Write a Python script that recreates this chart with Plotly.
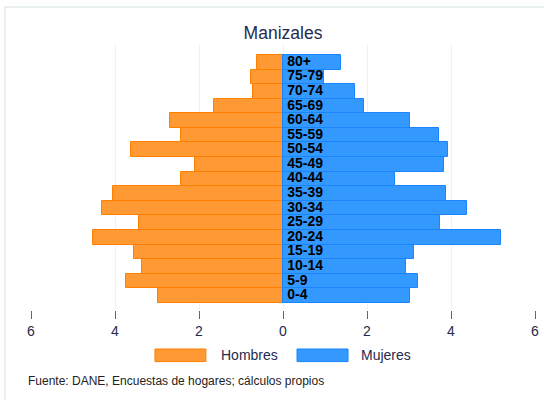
import plotly.graph_objects as go

age_groups = ["0-4", "5-9", "10-14", "15-19", "20-24", "25-29", "30-34", "35-39",
              "40-44", "45-49", "50-54", "55-59", "60-64", "65-69", "70-74", "75-79", "80+"]
hombres = [2.98, 3.75, 3.36, 3.55, 4.53, 3.42, 4.31, 4.04,
           2.44, 2.10, 3.61, 2.44, 2.69, 1.64, 0.71, 0.77, 0.61]
mujeres = [3.02, 3.21, 2.92, 3.11, 5.19, 3.73, 4.38, 3.87,
           2.67, 3.84, 3.92, 3.71, 3.02, 1.92, 1.71, 0.98, 1.38]
tick_vals = [-6, -4, -2, 0, 2, 4, 6]
tick_text = ["6", "4", "2", "0", "2", "4", "6"]

idx = list(range(len(age_groups)))
orange_fill, orange_line = "#FF9933", "#FF8000"
blue_fill, blue_line = "#3399FF", "#1A85FF"
navy = "#1f2b4d"

fig = go.Figure()
fig.add_trace(go.Bar(y=idx, x=[-v for v in hombres], orientation="h", name="Hombres",
                     width=1, marker=dict(color=orange_fill, line=dict(color=orange_line, width=1)),
                     showlegend=False))
fig.add_trace(go.Bar(y=idx, x=mujeres, orientation="h", name="Mujeres",
                     width=1, marker=dict(color=blue_fill, line=dict(color=blue_line, width=1)),
                     showlegend=False))
fig.add_trace(go.Scatter(y=idx, x=[0.1] * len(idx), mode="text",
                         text=["<b>" + a + "</b>" for a in age_groups],
                         textposition="middle right",
                         textfont=dict(family="Liberation Sans, Arial", size=14, color="black"),
                         showlegend=False, hoverinfo="skip"))

shapes = [
    dict(type="rect", xref="paper", yref="paper", x0=-0.0516, x1=1.2, y0=-0.6, y1=1.139,
         line=dict(color="#e4ecec", width=1.5), fillcolor="rgba(0,0,0,0)", layer="below"),
    dict(type="rect", xref="paper", yref="paper", x0=0.246, x1=0.347, y0=-0.194, y1=-0.1466,
         line=dict(color=orange_line, width=1), fillcolor=orange_fill),
    dict(type="rect", xref="paper", yref="paper", x0=0.5278, x1=0.629, y0=-0.194, y1=-0.1466,
         line=dict(color=blue_line, width=1), fillcolor=blue_fill),
]
annotations = [
    dict(xref="paper", yref="paper", x=0.373, y=-0.169, text="Hombres", showarrow=False,
         xanchor="left", yanchor="middle", font=dict(family="Liberation Sans, Arial", size=14, color=navy)),
    dict(xref="paper", yref="paper", x=0.651, y=-0.169, text="Mujeres", showarrow=False,
         xanchor="left", yanchor="middle", font=dict(family="Liberation Sans, Arial", size=14, color=navy)),
    dict(xref="paper", yref="paper", x=-0.0099, y=-0.267,
         text="Fuente: DANE, Encuestas de hogares; cálculos propios", showarrow=False,
         xanchor="left", yanchor="middle", font=dict(family="Liberation Sans, Arial", size=12, color="#222222")),
]

fig.update_layout(
    template="none",
    width=544, height=400,
    margin=dict(l=31, r=9, t=44, b=90, autoexpand=False),
    paper_bgcolor="white", plot_bgcolor="white",
    barmode="overlay", bargap=0,
    title=dict(text="Manizales", x=283 / 544, xanchor="center", y=1 - 33 / 400, yanchor="middle",
               font=dict(family="Liberation Sans, Arial", size=17.5, color=navy)),
    xaxis=dict(range=[-6, 6], tickvals=tick_vals, ticktext=tick_text, showgrid=True,
               gridcolor="#edf2f2", gridwidth=1, zeroline=False, showline=False, automargin=False,
               ticks="outside", ticklen=8, tickcolor="#666666", tickwidth=1,
               tickfont=dict(family="Liberation Sans, Arial", size=14, color=navy)),
    yaxis=dict(range=[-0.98, 17.25], showticklabels=False, showgrid=False, zeroline=False,
               ticks="", showline=False, automargin=False),
    shapes=shapes, annotations=annotations,
)

fig.write_html("out.html", config={"displayModeBar": False},
               post_script="document.body.style.margin='0';")
